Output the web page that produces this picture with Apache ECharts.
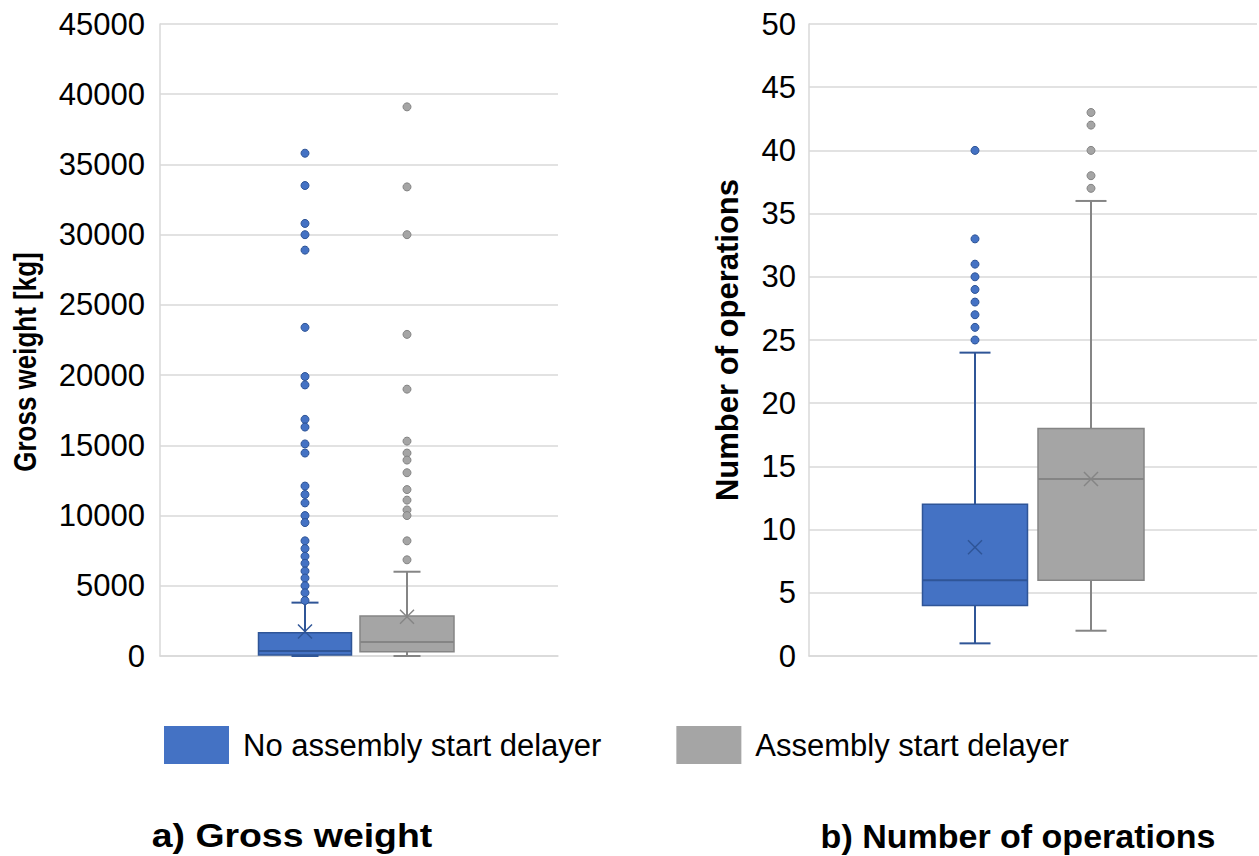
<!DOCTYPE html>
<html lang="en">
<head>
    <meta charset="UTF-8">
    <title>Box plots</title>
    <script src="https://cdn.jsdelivr.net/npm/echarts@6/dist/echarts.min.js"></script>
    <style>
        html, body {margin: 0; padding: 0; background: #fff;}
        #chart {width: 1259px; height: 856px;}
    </style>
</head>
<body>
<div id="chart"></div>
<script>
    // groups (two series per panel)
    const groups = ['No assembly start delayer', 'Assembly start delayer']

    // a) gross weight: [min, q1, median, q3, max], mean, outliers
    const grossNoStats = [0, 70, 360, 1650, 3800]
    const grossNoMean = 1750
    const grossNoOutliers = [35800, 33500, 30800, 30000, 28900, 23400, 19900, 19300, 16850, 16300,
        15100, 14450, 12100, 11500, 10900, 10000, 9500, 8200, 7650, 7100, 6600, 6050, 5550, 5000, 4500, 3950]
    const grossDelStats = [0, 300, 1000, 2850, 6000]
    const grossDelMean = 2800
    const grossDelOutliers = [39100, 33400, 30000, 22900, 19000, 15300, 14450, 13950, 13050, 11850,
        11100, 10400, 10000, 8200, 6850]

    // b) number of operations
    const opsNoStats = [1, 4, 6, 12, 24]
    const opsNoMean = 8.6
    const opsNoOutliers = [40, 33, 31, 30, 29, 28, 27, 26, 25]
    const opsDelStats = [2, 6, 14, 18, 36]
    const opsDelMean = 14
    const opsDelOutliers = [43, 42, 40, 38, 37]

    const blue = '#4472C4', blueDark = '#2F5597'
    const grey = '#A5A5A5', greyDark = '#858585'
    const font = '"Liberation Sans", Arial, sans-serif'

    // box + whiskers + mean cross drawn through the axis scales
    function boxRenderer(boxW, capW, fill, stroke) {
        return function (params, api) {
            const x = api.value(0)
            const p = v => api.coord([x, v])
            const lo = p(api.value(1)), q1 = p(api.value(2)), md = p(api.value(3))
            const q3 = p(api.value(4)), hi = p(api.value(5)), mn = p(api.value(6))
            const cx = lo[0], hb = boxW / 2, hc = capW / 2, xs = 7
            const ln = (x1, y1, x2, y2, w) => ({
                type: 'line', shape: {x1, y1, x2, y2},
                style: {stroke: stroke, lineWidth: w || 2}
            })
            return {
                type: 'group', children: [
                    ln(cx, q3[1], cx, hi[1]),
                    ln(cx, q1[1], cx, lo[1]),
                    ln(cx - hc, hi[1], cx + hc, hi[1]),
                    ln(cx - hc, lo[1], cx + hc, lo[1]),
                    {
                        type: 'rect',
                        shape: {x: cx - hb, y: q3[1], width: boxW, height: q1[1] - q3[1]},
                        style: {fill: fill, stroke: stroke, lineWidth: 1.5}
                    },
                    ln(cx - hb, md[1], cx + hb, md[1], 2),
                    ln(cx - xs, mn[1] - xs, cx + xs, mn[1] + xs, 1.5),
                    ln(cx - xs, mn[1] + xs, cx + xs, mn[1] - xs, 1.5)
                ]
            }
        }
    }

    const pts = (idx, arr) => arr.map(v => [idx, v])

    const chart = echarts.init(document.getElementById('chart'), null, {renderer: 'svg'})

    const yLabel = {fontSize: 31, color: '#000', fontFamily: font, formatter: v => String(v)}
    const gridLine = {show: true, lineStyle: {color: '#D9D9D9', width: 1.5}}
    const titleStyle = {fontWeight: 'bold', fill: '#000', fontFamily: font,
        textAlign: 'center', textVerticalAlign: 'middle'}

    const option = {
        animation: false,
        backgroundColor: '#fff',
        grid: [
            {left: 160, right: 701, top: 24, bottom: 200},
            {left: 809, right: 2, top: 24, bottom: 200},
            {left: 254, width: 204, top: 24, bottom: 200},
            {left: 917, width: 232, top: 24, bottom: 200}
        ],
        xAxis: [
            {gridIndex: 0, type: 'category', data: [''], axisLine: {lineStyle: {color: '#D9D9D9', width: 1.5}},
                axisTick: {show: false}, axisLabel: {show: false}},
            {gridIndex: 1, type: 'category', data: [''], axisLine: {lineStyle: {color: '#D9D9D9', width: 1.5}},
                axisTick: {show: false}, axisLabel: {show: false}},
            {gridIndex: 2, type: 'category', data: groups, show: false},
            {gridIndex: 3, type: 'category', data: groups, show: false}
        ],
        yAxis: [
            {gridIndex: 0, type: 'value', min: 0, max: 45000, interval: 5000,
                axisLine: {show: true, lineStyle: {color: '#D9D9D9', width: 1.5}}, axisTick: {show: false},
                axisLabel: Object.assign({margin: 15}, yLabel), splitLine: gridLine},
            {gridIndex: 1, type: 'value', min: 0, max: 50, interval: 5,
                axisLine: {show: true, lineStyle: {color: '#D9D9D9', width: 1.5}}, axisTick: {show: false},
                axisLabel: Object.assign({margin: 13}, yLabel), splitLine: gridLine},
            {gridIndex: 2, type: 'value', min: 0, max: 45000, show: false, splitLine: {show: false}},
            {gridIndex: 3, type: 'value', min: 0, max: 50, show: false, splitLine: {show: false}}
        ],
        legend: {
            left: 159, top: 721, itemWidth: 65, itemHeight: 38, itemGap: 75, selectedMode: false,
            textStyle: {fontSize: 31, color: '#000', fontFamily: font, padding: [0, 0, 0, 9]},
            data: [
                {name: groups[0], icon: 'rect', itemStyle: {color: blue, borderWidth: 0}},
                {name: groups[1], icon: 'rect', itemStyle: {color: grey, borderWidth: 0}}
            ]
        },
        graphic: [
            {type: 'text', x: 25, y: 362, rotation: Math.PI / 2, scaleY: 1.2,
                style: Object.assign({text: 'Gross weight [kg]', fontSize: 26}, titleStyle)},
            {type: 'text', x: 727, y: 340, rotation: Math.PI / 2,
                style: Object.assign({text: 'Number of operations', fontSize: 31}, titleStyle)},
            {type: 'text', x: 292, y: 836, scaleX: 1.1,
                style: Object.assign({text: 'a) Gross weight', fontSize: 34}, titleStyle)},
            {type: 'text', x: 1018, y: 836,
                style: Object.assign({text: 'b) Number of operations', fontSize: 34}, titleStyle)}
        ],
        series: [
            {name: groups[0], type: 'custom', xAxisIndex: 2, yAxisIndex: 2, itemStyle: {color: blue},
                renderItem: boxRenderer(93, 27, blue, blueDark),
                data: [[0].concat(grossNoStats, [grossNoMean])]},
            {name: groups[1], type: 'custom', xAxisIndex: 2, yAxisIndex: 2, itemStyle: {color: grey},
                renderItem: boxRenderer(94, 27, grey, greyDark),
                data: [[1].concat(grossDelStats, [grossDelMean])]},
            {name: groups[0], type: 'scatter', xAxisIndex: 2, yAxisIndex: 2, symbolSize: 8,
                itemStyle: {color: blue, borderColor: blueDark, borderWidth: 1, opacity: 1},
                data: pts(0, grossNoOutliers)},
            {name: groups[1], type: 'scatter', xAxisIndex: 2, yAxisIndex: 2, symbolSize: 8,
                itemStyle: {color: grey, borderColor: greyDark, borderWidth: 1, opacity: 1},
                data: pts(1, grossDelOutliers)},

            {name: groups[0], type: 'custom', xAxisIndex: 3, yAxisIndex: 3, itemStyle: {color: blue},
                renderItem: boxRenderer(105, 31, blue, blueDark),
                data: [[0].concat(opsNoStats, [opsNoMean])]},
            {name: groups[1], type: 'custom', xAxisIndex: 3, yAxisIndex: 3, itemStyle: {color: grey},
                renderItem: boxRenderer(106, 31, grey, greyDark),
                data: [[1].concat(opsDelStats, [opsDelMean])]},
            {name: groups[0], type: 'scatter', xAxisIndex: 3, yAxisIndex: 3, symbolSize: 8,
                itemStyle: {color: blue, borderColor: blueDark, borderWidth: 1, opacity: 1},
                data: pts(0, opsNoOutliers)},
            {name: groups[1], type: 'scatter', xAxisIndex: 3, yAxisIndex: 3, symbolSize: 8,
                itemStyle: {color: grey, borderColor: greyDark, borderWidth: 1, opacity: 1},
                data: pts(1, opsDelOutliers)}
        ]
    }
    chart.setOption(option)
</script>
</body>
</html>
